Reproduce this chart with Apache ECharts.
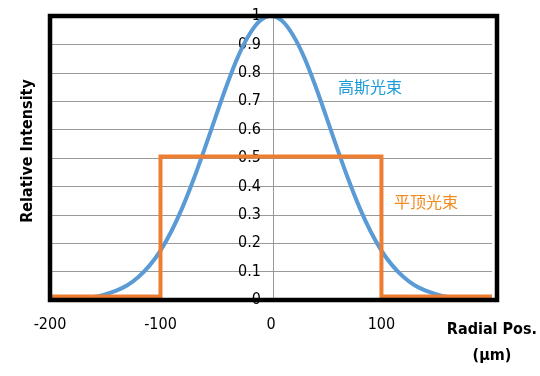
<!DOCTYPE html>
<html>
<head>
<meta charset="utf-8">
<script src="https://cdn.jsdelivr.net/npm/echarts@6/dist/echarts.min.js"></script>
<style>
  html, body { margin: 0; padding: 0; background: #fff; }
  #chart { width: 540px; height: 376px; }
</style>
</head>
<body>
<div id="chart"></div>
<script>
// radial position (µm) and intensity
const gaussX = [-200, -190, -180, -170, -160, -150, -140, -130, -120, -110, -100, -90, -80, -70, -60, -50, -40, -30, -20, -10, 0,
  10, 20, 30, 40, 50, 60, 70, 80, 90, 100, 110, 120, 130, 140, 150, 160, 170, 180, 190, 200];
const gaussY = [0.001, 0.002, 0.004, 0.006, 0.011, 0.02, 0.033, 0.052, 0.081, 0.121, 0.174, 0.243, 0.327, 0.425, 0.533, 0.646, 0.756, 0.855, 0.932, 0.983, 1,
  0.983, 0.932, 0.855, 0.756, 0.646, 0.533, 0.425, 0.327, 0.243, 0.174, 0.121, 0.081, 0.052, 0.033, 0.02, 0.011, 0.006, 0.004, 0.002, 0.001];

const flatX = [-200, -100, -100, 100, 100, 200];
const flatY = [0.012, 0.012, 0.505, 0.505, 0.012, 0.012];

const xTicks = ['-200', '-100', '0', '100'];

const font = '"Liberation Sans Narrow", "DejaVu Sans Condensed", sans-serif';

// plot box
const gridLeft = 50, gridRight = 43, gridTop = 16, gridBottom = 76;

function pairs(xs, ys) {
  return xs.map((x, i) => [x, ys[i]]);
}

const chart = echarts.init(document.getElementById('chart'));

chart.setOption({
  animation: false,
  grid: {
    left: gridLeft, right: gridRight, top: gridTop, bottom: gridBottom
  },
  xAxis: {
    type: 'value',
    min: -200, max: 200, interval: 100,
    axisLine: {show: false},
    axisTick: {show: false},
    splitLine: {show: false},
    axisLabel: {
      margin: 17,
      color: '#000',
      fontFamily: font,
      fontSize: 16,
      formatter: function (v) {
        let s = String(v);
        if (xTicks.indexOf(s) >= 0) return s;
        return '{b|Radial Pos.}\n{b|(μm)}';
      },
      rich: {
        b: {fontFamily: font, fontSize: 16, fontWeight: 'bold', color: '#000', lineHeight: 26, align: 'center'}
      }
    }
  },
  yAxis: {
    type: 'value',
    min: 0, max: 1, interval: 0.1,
    offset: -223,
    axisLine: {show: true, onZero: false, lineStyle: {color: '#999', width: 1}},
    axisTick: {show: false},
    splitLine: {show: true, lineStyle: {color: '#999', width: 1}},
    axisLabel: {
      margin: 12,
      color: '#000',
      fontFamily: font,
      fontSize: 16
    }
  },
  graphic: [
    {
      type: 'rect',
      z: 100,
      silent: true,
      shape: {x: gridLeft, y: gridTop, width: 540 - gridLeft - gridRight, height: 376 - gridTop - gridBottom},
      style: {fill: 'none', stroke: '#000', lineWidth: 4.5}
    },
    {
      type: 'text',
      x: 28, y: 151,
      rotation: Math.PI / 2,
      style: {
        text: 'Relative Intensity',
        fontFamily: font,
        fontSize: 16,
        fontWeight: 'bold',
        fill: '#000',
        align: 'center',
        verticalAlign: 'middle'
      }
    },
    {
      type: 'text',
      x: 370, y: 87,
      style: {
        text: '高斯光束',
        fontFamily: '"Noto Sans CJK SC", sans-serif',
        fontSize: 16,
        fill: '#1a9bd7',
        align: 'center',
        verticalAlign: 'middle'
      }
    },
    {
      type: 'text',
      x: 426, y: 202,
      style: {
        text: '平顶光束',
        fontFamily: '"Noto Sans CJK SC", sans-serif',
        fontSize: 16,
        fill: '#f28a1e',
        align: 'center',
        verticalAlign: 'middle'
      }
    }
  ],
  series: [
    {
      name: '高斯光束',
      type: 'line',
      data: pairs(gaussX, gaussY),
      smooth: 0.3,
      showSymbol: false,
      lineStyle: {color: '#5b9bd5', width: 4}
    },
    {
      name: '平顶光束',
      type: 'line',
      data: pairs(flatX, flatY),
      showSymbol: false,
      lineStyle: {color: '#ed7d31', width: 4, join: 'miter'}
    }
  ]
});
</script>
</body>
</html>
